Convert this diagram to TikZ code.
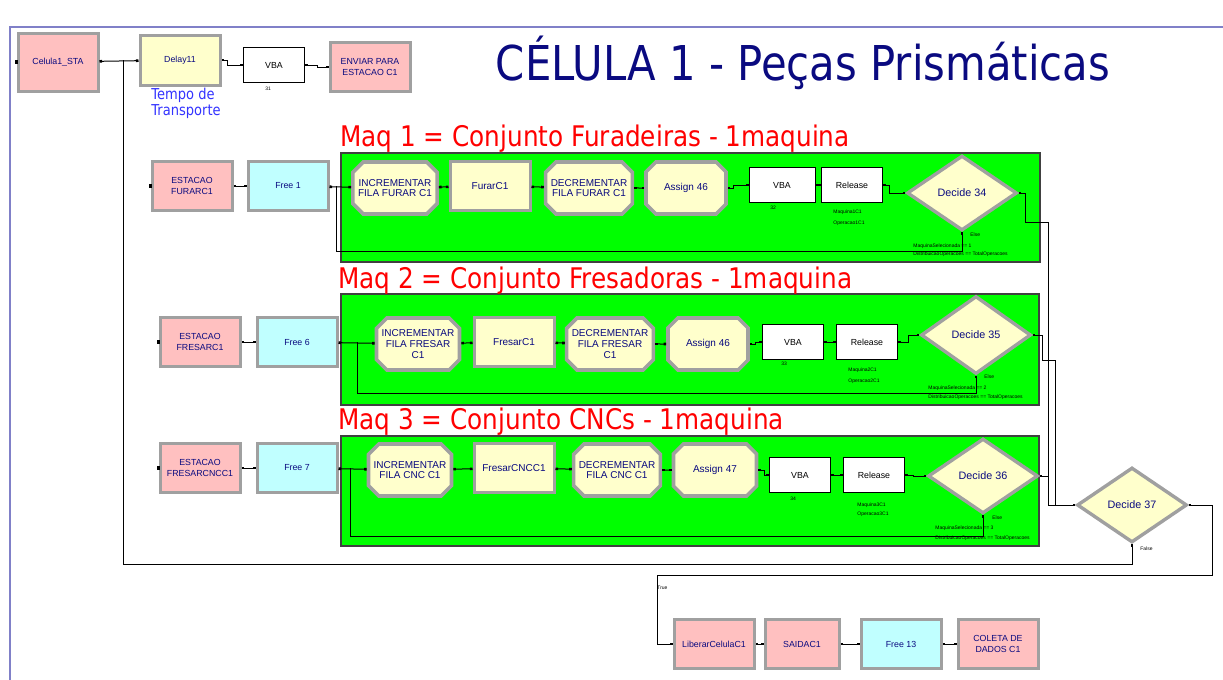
\documentclass[tikz,border=0pt]{standalone}
\usepackage{fontspec}
\setmainfont{Liberation Sans}
\newfontfamily\tahomalike[FakeStretch=0.87]{DejaVu Sans}
\usetikzlibrary{shapes.geometric, shapes.misc, arrows.meta}

\definecolor{pinkfill}{RGB}{255,192,192}
\definecolor{yellowfill}{RGB}{255,255,204}
\definecolor{cyanfill}{RGB}{192,255,255}
\definecolor{bordergray}{RGB}{160,160,160}
\definecolor{navytext}{RGB}{10,10,128}
\definecolor{panelgreen}{RGB}{0,255,0}
\definecolor{framelilac}{RGB}{128,128,200}
\definecolor{tempoblue}{RGB}{51,51,255}

\tikzset{
  module/.style={draw=bordergray, line width=1.5pt, inner sep=0pt, align=center, text=navytext,
    font=\fontsize{4.4}{5.6}\selectfont, minimum width=40pt, minimum height=24.5pt},
  pinkmod/.style={module, fill=pinkfill},
  cyanmod/.style={module, fill=cyanfill},
  procmod/.style={module, fill=yellowfill, font=\fontsize{5}{6}\selectfont},
  octmod/.style={module, shape=chamfered rectangle, chamfered rectangle xsep=2.6pt,
    chamfered rectangle ysep=2.6pt, fill=yellowfill, minimum height=26pt, line width=1.8pt,
    font=\fontsize{5}{5.4}\selectfont},
  vbamod/.style={draw=black, fill=white, line width=0.5pt, inner sep=0pt, minimum width=30.5pt,
    minimum height=17.5pt, font=\fontsize{4.4}{5}\selectfont},
  decmod/.style={shape=diamond, draw=bordergray, line width=1.7pt, fill=yellowfill, inner sep=0pt,
    minimum width=55pt, minimum height=37.5pt, text=navytext, font=\fontsize{5.4}{6}\selectfont},
  conn/.style={line width=0.5pt, {Square[length=1.3pt,width=1.3pt]}-{Square[length=1.3pt,width=1.3pt]}},
  loopline/.style={line width=0.5pt, {Square[length=1.3pt,width=1.3pt]}-},
  tinytext/.style={font=\fontsize{2.5}{3}\selectfont, inner sep=0pt, anchor=west},
  entrydot/.style={fill=black, inner sep=0pt, minimum size=1.6pt},
  maqlabel/.style={text=red, font=\tahomalike\fontsize{14.2}{16}\selectfont, inner sep=0pt, anchor=base west},
  panel/.style={fill=panelgreen, draw=black!75, line width=0.6pt}
}

\begin{document}
\begin{tikzpicture}[x=0.5pt, y=-0.5pt]
\useasboundingbox (0,0) rectangle (1223,680);
%frame and panels
\draw[framelilac, line width=0.8pt] (10,680) -- (10,27) -- (1223,27);
\draw[panel] (341,153) rectangle (1040,262);
\draw[panel] (341,294) rectangle (1039,405);
\draw[panel] (341,436) rectangle (1039,546);

%titles
\node[text=navytext, font=\tahomalike\fontsize{24}{28}\selectfont, inner sep=0pt, anchor=base] (title) at (803,80) {CÉLULA 1 - Peças Prismáticas};
\node[maqlabel] (maq1) at (340,146) {Maq 1 = Conjunto Furadeiras - 1maquina};
\node[maqlabel] (maq2) at (338,288) {Maq 2 = Conjunto Fresadoras - 1maquina};
\node[maqlabel] (maq3) at (338,429) {Maq 3 = Conjunto CNCs - 1maquina};

%nodes: entrada
\node[pinkmod, minimum height=29pt] (sta) at (58,62) {Celula1\_STA};
\node[procmod, minimum height=25pt, font=\fontsize{4.4}{5.6}\selectfont] (delay) at (180,60) {Delay11};
\node[vbamod] (vba0) at (274,65) {VBA};
\node[pinkmod] (enviar) at (370,67) {ENVIAR PARA\\ESTACAO C1};
\node[text=tempoblue, font=\tahomalike\fontsize{7.5}{6.2}\selectfont, align=left, anchor=north west, inner sep=0pt] (tempo) at (151,88) {Tempo de\\Transporte};
\node[tinytext] (n31) at (265,89) {31};
\node[entrydot] (in0) at (sta.west) {};

%nodes: maq 1
\node[pinkmod] (est1) at (192,186) {ESTACAO\\FURARC1};
\node[cyanmod] (free1) at (288,186) {Free 1};
\node[octmod] (inc1) at (395,188) {INCREMENTAR\\FILA FURAR C1};
\node[procmod] (op1) at (490,186) {FurarC1};
\node[octmod] (decr1) at (589,188) {DECREMENTAR\\FILA FURAR C1};
\node[octmod] (asg1) at (686,188) {Assign 46};
\node[vbamod, minimum width=33pt] (vba1) at (782,185) {VBA};
\node[vbamod] (rel1) at (852,185) {Release};
\node[decmod] (dec34) at (962,193) {Decide 34};
\node[entrydot] (in1) at (est1.west) {};
\node[tinytext] (n32) at (770,208) {32};
\node[tinytext] (res1a) at (833,212) {Maquina1C1};
\node[tinytext] (res1b) at (833,223) {Operacao1C1};
\node[tinytext] (else1) at (970,235) {Else};
\node[tinytext] (cond1a) at (913,246) {MaquinaSelecionada == 1};
\node[tinytext] (cond1b) at (913,254) {DistribuicaoOperacoes == TotalOperacoes};

%nodes: maq 2
\node[pinkmod] (est2) at (200,342) {ESTACAO\\FRESARC1};
\node[cyanmod] (free6) at (297,342) {Free 6};
\node[octmod] (inc2) at (418,344) {INCREMENTAR\\FILA FRESAR\\C1};
\node[procmod] (op2) at (514,342) {FresarC1};
\node[octmod] (decr2) at (610,344) {DECREMENTAR\\FILA FRESAR\\C1};
\node[octmod] (asg2) at (708,344) {Assign 46};
\node[vbamod] (vba2) at (793,342) {VBA};
\node[vbamod] (rel2) at (867,342) {Release};
\node[decmod, minimum height=39pt] (dec35) at (976,335) {Decide 35};
\node[entrydot] (in2) at (est2.west) {};
\node[tinytext] (n33) at (781,364) {33};
\node[tinytext] (res2a) at (848,370) {Maquina2C1};
\node[tinytext] (res2b) at (848,381) {Operacao2C1};
\node[tinytext] (else2) at (984,377) {Else};
\node[tinytext] (cond2a) at (928,388) {MaquinaSelecionada == 2};
\node[tinytext] (cond2b) at (928,397) {DistribuicaoOperacoes == TotalOperacoes};

%nodes: maq 3
\node[pinkmod] (est3) at (200,468) {ESTACAO\\FRESARCNCC1};
\node[cyanmod] (free7) at (297,468) {Free 7};
\node[octmod, minimum width=41.5pt] (inc3) at (410,470) {INCREMENTAR\\FILA CNC C1};
\node[procmod] (op3) at (514,468) {FresarCNCC1};
\node[octmod, minimum width=41.5pt] (decr3) at (617,470) {DECREMENTAR\\FILA CNC C1};
\node[octmod, minimum width=41.5pt] (asg3) at (715,470) {Assign 47};
\node[vbamod] (vba3) at (800,475) {VBA};
\node[vbamod] (rel3) at (874,475) {Release};
\node[decmod] (dec36) at (983,476) {Decide 36};
\node[entrydot] (in3) at (est3.west) {};
\node[tinytext] (n34) at (790,499) {34};
\node[tinytext] (res3a) at (857,505) {Maquina3C1};
\node[tinytext] (res3b) at (857,514) {Operacao3C1};
\node[tinytext] (else3) at (992,518) {Else};
\node[tinytext] (cond3a) at (935,528) {MaquinaSelecionada == 3};
\node[tinytext] (cond3b) at (935,538) {DistribuicaoOperacoes == TotalOperacoes};

%nodes: saida
\node[decmod] (dec37) at (1132,505) {Decide 37};
\node[tinytext] (false37) at (1140,549) {False};
\node[tinytext] (true37) at (657,588) {True};
\node[pinkmod] (lib) at (714,644) {LiberarCelulaC1};
\node[pinkmod, minimum width=37pt] (saida) at (802,644) {SAIDAC1};
\node[cyanmod] (free13) at (901,644) {Free 13};
\node[pinkmod] (coleta) at (998,644) {COLETA DE\\DADOS C1};

\coordinate (j0) at (123,60);
\coordinate (j1) at (336,186);
\coordinate (j2) at (357,342);
\coordinate (j3) at (350,468);

%edges
\draw[conn] (sta) -- (delay);
\draw[conn] (delay.east) -- ++(6,0) |- (vba0.west);
\draw[conn] (vba0.east) -- ++(12,0) |- (enviar.west);

\draw[conn] (est1) -- (free1);
\draw[conn] (free1) -- (inc1);
\draw[conn] (inc1) -- (op1);
\draw[conn] (op1) -- (decr1);
\draw[conn] (decr1) -- (asg1);
\draw[conn] (asg1.east) -- ++(6,0) |- (vba1.west);
\draw[conn] (vba1) -- (rel1);
\draw[conn] (rel1.east) -- ++(6,0) |- (dec34.west);
\draw[loopline] (dec34.south) -- ++(0,19) -| (j1);

\draw[conn] (est2) -- (free6);
\draw[conn] (free6) -- (inc2);
\draw[conn] (inc2) -- (op2);
\draw[conn] (op2) -- (decr2);
\draw[conn] (decr2) -- (asg2);
\draw[conn] (asg2.east) -- ++(6,0) |- (vba2.west);
\draw[conn] (vba2) -- (rel2);
\draw[conn] (rel2.east) -- ++(10,0) |- (dec35.west);
\draw[loopline] (dec35.south) -- ++(0,18) -| (j2);

\draw[conn] (est3) -- (free7);
\draw[conn] (free7) -- (inc3);
\draw[conn] (inc3) -- (op3);
\draw[conn] (op3) -- (decr3);
\draw[conn] (decr3) -- (asg3);
\draw[conn] (asg3.east) -- ++(6,0) |- (vba3.west);
\draw[conn] (vba3) -- (rel3);
\draw[conn] (rel3.east) -- ++(8,0) |- (dec36.west);
\draw[loopline] (dec36.south) -- ++(0,21) -| (j3);

\draw[conn] (dec34.east) -| (1025,222) -| (1048,505) -- (dec37.west);
\draw[conn] (dec35.east) -| (1042,360) -| (1055,505) -- (dec37.west);
\draw[conn] (dec36.east) -| (1048,505) -- (dec37.west);
\draw[conn] (dec37.east) -| (1212,575) -| (657,644) -- (lib.west);
\draw[loopline] (dec37.south) -- ++(0,20) -| (j0);

\draw[conn] (lib) -- (saida);
\draw[conn] (saida) -- (free13);
\draw[conn] (free13) -- (coleta);
\end{tikzpicture}
\end{document}
